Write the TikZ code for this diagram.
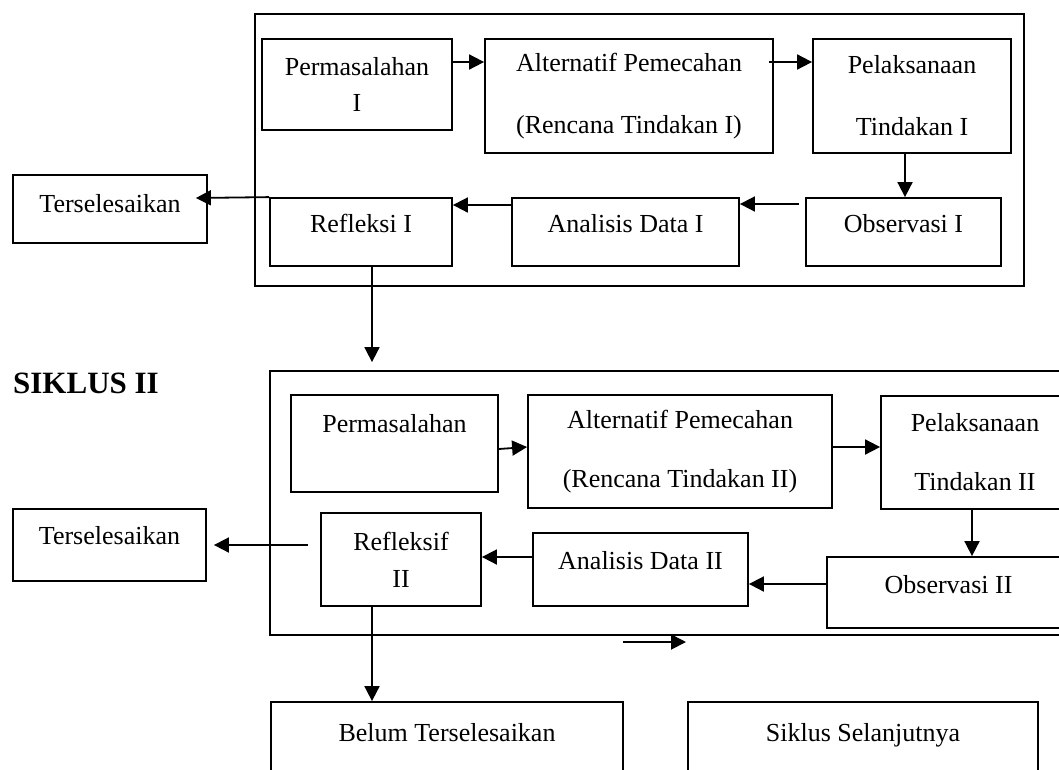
\documentclass[tikz,border=0pt]{standalone}
\usepackage{fontspec}
\setmainfont{Liberation Serif}
\usetikzlibrary{arrows.meta,positioning}
\tikzset{box/.style={draw, line width=1.8pt, inner sep=0pt, align=center}}
\tikzset{lifted/.style={text height=18pt, text depth=#1}}
\tikzset{arr/.style={draw, line width=1.8pt, -{Triangle[length=15pt,width=15pt]}}}

\begin{document}
\begin{tikzpicture}[x=1pt, y=-1pt, font=\fontsize{26}{30}\selectfont]
	\clip (0,0) rectangle (1059,769);
	% siklus I
	\node[box, minimum width=769pt, minimum height=272pt] (fr1) at (639.5,150) {};
	\node[box, minimum width=190pt, minimum height=91pt] (perm1) at (357,84.5) {Permasalahan\\[6pt]I};
	\node[box, minimum width=288pt, minimum height=114pt] (alt1) at (629,96) {Alternatif Pemecahan\\[32pt](Rencana Tindakan I)};
	\node[box, minimum width=198pt, minimum height=114pt] (pel1) at (912,96) {Pelaksanaan\\[32pt]Tindakan I};
	\node[box, lifted=18pt, minimum width=195pt, minimum height=68pt] (obs1) at (903.5,232) {Observasi I};
	\node[box, lifted=18pt, minimum width=227pt, minimum height=68pt] (ana1) at (625.5,232) {Analisis Data I};
	\node[box, lifted=18pt, minimum width=182pt, minimum height=68pt] (ref1) at (361,232) {Refleksi I};
	\node[box, lifted=12pt, minimum width=194pt, minimum height=68pt] (ter1) at (110,209) {Terselesaikan};
	
	\draw[arr] ([yshift=22.5pt]perm1.east) -- ([yshift=34pt]alt1.west);
	\draw[arr] ([xshift=-5pt,yshift=34pt]alt1.east) -- ([yshift=34pt]pel1.west);
	\draw[arr] ([xshift=-7pt]pel1.south) -- ([xshift=1.5pt]obs1.north);
	\draw[arr] ([xshift=-6pt,yshift=28pt]obs1.west) -- ([yshift=28pt]ana1.east);
	\draw[arr] ([yshift=27pt]ana1.west) -- ([yshift=27pt]ref1.east);
	\draw[arr] (ref1.north west) -- ([xshift=-12pt,yshift=11pt]ter1.east);
	
	% siklus II
	\node[anchor=west, inner sep=0pt, font=\fontsize{31}{34}\selectfont\bfseries] (sik2) at (13,383) {SIKLUS II};
	\node[box, minimum width=805pt, minimum height=264pt] (fr2) at (672.5,503) {};
	\node[box, lifted=41pt, minimum width=207pt, minimum height=97pt] (perm2) at (394.5,443.5) {Permasalahan};
	\node[box, minimum width=304pt, minimum height=113pt] (alt2) at (680,451.5) {Alternatif Pemecahan\\[29pt](Rencana Tindakan II)};
	\node[box, minimum width=188pt, minimum height=113pt] (pel2) at (975,452.5) {Pelaksanaan\\[29pt]Tindakan II};
	\node[box, lifted=17pt, minimum width=243pt, minimum height=71pt] (obs2) at (948.5,592.5) {Observasi II};
	\node[box, lifted=19pt, minimum width=215pt, minimum height=73pt] (ana2) at (640.5,569.5) {Analisis Data II};
	\node[box, minimum width=160pt, minimum height=93pt] (ref2) at (401,559.5) {Refleksif\\[7pt]II};
	\node[box, lifted=20pt, minimum width=193pt, minimum height=72pt] (ter2) at (109.5,545) {Terselesaikan};
	\node[box, lifted=12pt, minimum width=352pt, minimum height=72pt] (belum) at (447,738) {Belum Terselesaikan};
	\node[box, lifted=12pt, minimum width=350pt, minimum height=72pt] (next) at (863,738) {Siklus Selanjutnya};
	
	\coordinate (r1out) at ([xshift=11pt]ref1.south);
	\draw[arr, shorten >=8pt] (r1out) -- (r1out |- fr2.north);
	
	\draw[arr] ([yshift=-5.5pt]perm2.east) -- ([yshift=4.5pt]alt2.west);
	\draw[arr] ([yshift=4.5pt]alt2.east) -- ([yshift=5.5pt]pel2.west);
	\draw[arr] ([xshift=-3pt]pel2.south) -- ([xshift=23.5pt]obs2.north);
	\draw[arr] ([yshift=8.5pt]obs2.west) -- ([yshift=-14.5pt]ana2.east);
	\draw[arr] ([yshift=12.5pt]ana2.west) -- ([yshift=2.5pt]ref2.east);
	\draw[arr] ([xshift=-12pt,yshift=14.5pt]ref2.west) -- ([xshift=7pt]ter2.east);
	\draw[arr] ([xshift=-29pt]ref2.south) -- ([xshift=-75pt]belum.north);
	
	\coordinate (gapL) at (623,642);
	\coordinate (gapR) at (686,642);
	\draw[arr] (gapL) -- (gapR);
\end{tikzpicture}
\end{document}
